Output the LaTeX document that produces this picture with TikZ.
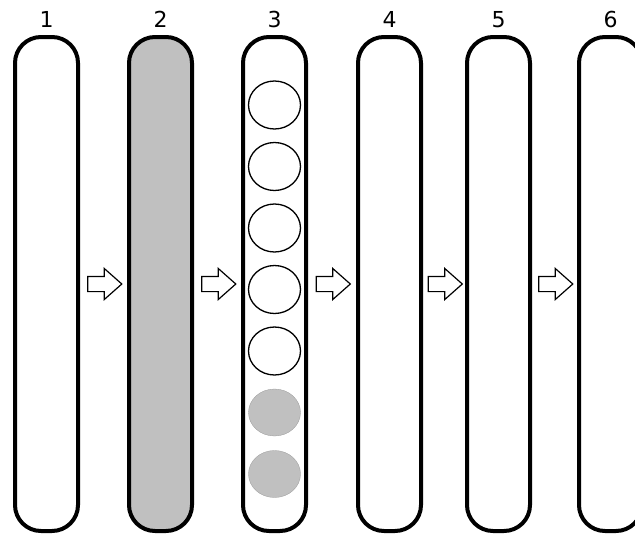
\documentclass[tikz,border=0pt]{standalone}
\usepackage{fontspec}
\setmainfont{DejaVu Sans}
\usepackage{tikz}
\usetikzlibrary{positioning,calc,shapes.geometric,shapes.arrows}

\definecolor{fillgray}{HTML}{C0C0C0}

\tikzset{
  bar/.style={draw, line width=4pt, rounded corners=26pt, fill=white,
    minimum width=63pt, minimum height=494pt, inner sep=0pt},
  fullbar/.style={bar, fill=fillgray},
  num/.style={inner sep=0pt, font=\fontsize{22}{24}\selectfont},
  flow/.style={single arrow, draw, line width=1.2pt, fill=white,
    inner xsep=0pt, inner ysep=7pt, minimum height=34pt, xshift=-3pt,
    single arrow head extend=8pt, single arrow tip angle=83},
  hole/.style={ellipse, draw, line width=1.3pt, fill=white,
    minimum width=52pt, minimum height=48pt, inner sep=0pt},
  dot/.style={ellipse, fill=fillgray, draw=fillgray!80!black, line width=0.3pt,
    minimum width=52pt, minimum height=47pt, inner sep=0pt}
}

\begin{document}
\begin{tikzpicture}[x=1pt, y=-1pt]
        \clip (0,0) rectangle (635,536);

        \node[bar] (b1) at (46.5,284) {};
        \node[fullbar] (b2) [right=47pt of b1] {};
        \node[bar] (b3) [right=47pt of b2] {};
        \node[bar] (b4) [right=48pt of b3] {};
        \node[bar] (b5) [right=42pt of b4] {};
        \node[bar] (b6) [right=45pt of b5] {};

        \foreach \i in {1,...,6}
          \node[num, above=7pt of b\i] (n\i) {\i};

        \foreach \i [evaluate=\i as \j using int(\i+1)] in {1,...,5}
          \node[flow] (f\i) at ($(b\i.east)!0.5!(b\j.west)$) {};

        \foreach \s [count=\i] in {hole,hole,hole,hole,hole,dot,dot}
          \node[\s] (c\i) at ($(b3.center)+(0,{-179+61.5*(\i-1)})$) {};
\end{tikzpicture}
\end{document}
